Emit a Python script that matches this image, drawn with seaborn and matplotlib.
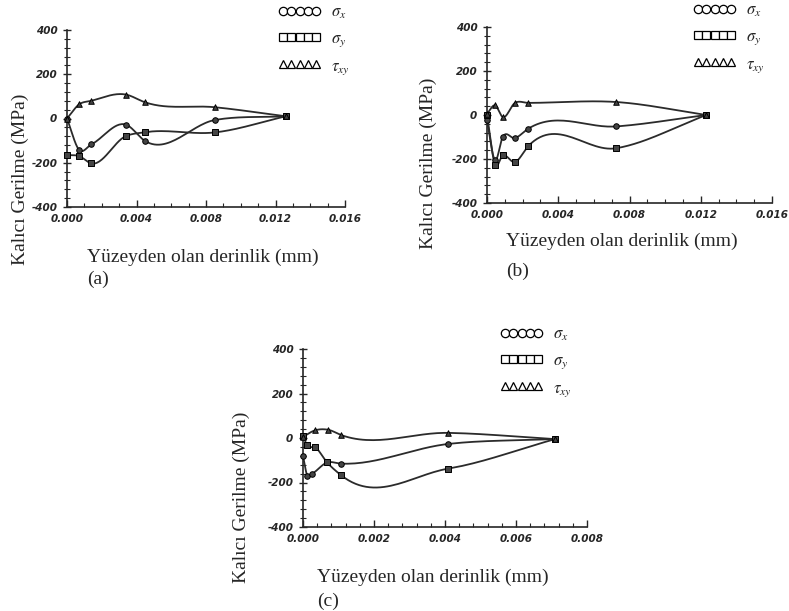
import numpy as np
import pandas as pd
import seaborn as sns
import matplotlib.pyplot as plt
from matplotlib.lines import Line2D
from matplotlib.ticker import MultipleLocator

# panel (a)
a_depth = [0.0, 0.0007, 0.0014, 0.0034, 0.0045, 0.0085, 0.0126]
a_sx = [0, -142, -117, -28, -102, -7, 10]
a_sy = [-165, -170, -203, -79, -62, -63, 10]
a_tau = [0, 64, 80, 108, 73, 51, 10]

# panel (b)
b_depth = [0.0, 0.00045, 0.00088, 0.00157, 0.00232, 0.00726, 0.01232]
b_sx = [-24, -206, -100, -105, -62, -52, 0]
b_sy = [0, -225, -184, -214, -141, -151, 0]
b_tau = [5, 44, -9, 55, 55, 59, 0]

# panel (c)
c_depth_sx = [0.0, 0.00012, 0.00026, 0.00068, 0.00106, 0.00408, 0.0071]
c_sx = [-80, -170, -160, -110, -115, -27, -5]
c_depth_sy = [0.0, 0.0001, 0.00035, 0.00068, 0.00108, 0.00408, 0.0071]
c_sy = [10, -30, -42, -110, -168, -138, -5]
c_depth_tau = [0.0, 0.00033, 0.00071, 0.00108, 0.00408, 0.0071]
c_tau = [5, 34, 37, 13, 23, -5]

series_labels = [r'$\sigma_x$', r'$\sigma_y$', r'$\tau_{xy}$']
series_markers = ['o', 's', '^']
xlabel = "Yüzeyden olan derinlik (mm)"
ylabel = "Kalıcı Gerilme (MPa)"

sns.set_style("ticks")
plt.rcParams['mathtext.fontset'] = 'stix'
plt.rcParams['font.family'] = ['Liberation Serif', 'DejaVu Serif']

LINE = '#2b2b2b'
W, H = 789, 611


def smooth(x, y, n=30):
    # hermite curve through the points, for the drawn line only
    x = np.asarray(x, float)
    y = np.asarray(y, float)
    m = np.gradient(y, x)
    xs, ys = [], []
    t = np.linspace(0, 1, n, endpoint=False)
    for i in range(len(x) - 1):
        h = x[i + 1] - x[i]
        h00 = 2 * t**3 - 3 * t**2 + 1
        h10 = t**3 - 2 * t**2 + t
        h01 = -2 * t**3 + 3 * t**2
        h11 = t**3 - t**2
        xs.append(x[i] + t * h)
        ys.append(h00 * y[i] + h10 * h * m[i] + h01 * y[i + 1] + h11 * h * m[i + 1])
    xs.append([x[-1]])
    ys.append([y[-1]])
    return np.concatenate(xs), np.concatenate(ys)


def make_panel(fig, box, curves, xmax, xstep, xminor, tag, xl_pos, tag_pos, yl_pos, leg_pos):
    l, r, t, b = box
    ax = fig.add_axes([l / W, 1 - b / H, (r - l) / W, (b - t) / H])
    for (depth, vals), mk in zip(curves, series_markers):
        xs, ys = smooth(depth, vals)
        sns.lineplot(x=xs, y=ys, ax=ax, color=LINE, lw=1.3, sort=False, estimator=None)
        sns.scatterplot(x=depth, y=vals, ax=ax, marker=mk, s=16, color='#444444',
                        edgecolor='black', linewidth=0.7, zorder=3, clip_on=False)
    ax.set_xlim(0, xmax)
    ax.set_ylim(-400, 400)
    sns.despine(ax=ax)
    ax.spines['left'].set_linewidth(1.2)
    ax.spines['bottom'].set_linewidth(1.2)
    xt = np.arange(0, xmax + 1e-9, xstep)
    ax.set_xticks(xt)
    ax.set_xticklabels([f"{v:.3f}" for v in xt])
    ax.set_yticks([-400, -200, 0, 200, 400])
    ax.set_yticklabels(['-400', '-200', '0', '200', '400'])
    ax.xaxis.set_minor_locator(MultipleLocator(xminor))
    ax.yaxis.set_minor_locator(MultipleLocator(40))
    ax.tick_params(axis='x', which='major', direction='in', length=5, width=1, pad=5)
    ax.tick_params(axis='x', which='minor', direction='in', length=3, width=0.8)
    ax.tick_params(axis='y', which='major', direction='inout', length=6, width=1, pad=4)
    ax.tick_params(axis='y', which='minor', direction='inout', length=4, width=0.8)
    for lab in ax.get_xticklabels() + ax.get_yticklabels():
        lab.set_family('DejaVu Sans')
        lab.set_fontweight('bold')
        lab.set_fontstyle('italic')
        lab.set_fontsize(7.5)
    ax.set_xlabel('')
    ax.set_ylabel('')

    fig.text(xl_pos[0] / W, 1 - xl_pos[1] / H, xlabel, fontsize=14, va='center', ha='left')
    fig.text(tag_pos[0] / W, 1 - tag_pos[1] / H, tag, fontsize=14, va='center', ha='left')
    fig.text(yl_pos[0] / W, 1 - yl_pos[1] / H, ylabel, fontsize=14, rotation=90,
             va='center', ha='center')

    handles = [Line2D([], [], linestyle='None', marker=mk, markersize=6,
                      markerfacecolor='white', markeredgecolor='black', markeredgewidth=0.9)
               for mk in series_markers]
    fig.legend(handles, series_labels, loc='upper left',
               bbox_to_anchor=(leg_pos[0] / W, 1 - leg_pos[1] / H),
               numpoints=5, frameon=False, handlelength=2.6, handletextpad=0.6,
               labelspacing=0.55, fontsize=12, borderaxespad=0, borderpad=0)
    return ax


fig = plt.figure(figsize=(7.89, 6.11), dpi=100)

make_panel(fig, (67, 345, 30, 207),
           [(a_depth, a_sx), (a_depth, a_sy), (a_depth, a_tau)],
           0.016, 0.004, 0.001, "(a)",
           (87, 257), (87, 279), (20, 179), (278, 5))

make_panel(fig, (487, 772, 27, 203),
           [(b_depth, b_sx), (b_depth, b_sy), (b_depth, b_tau)],
           0.016, 0.004, 0.001, "(b)",
           (506, 241), (506, 271), (428, 163), (693, 3))

make_panel(fig, (303, 587, 349, 527),
           [(c_depth_sx, c_sx), (c_depth_sy, c_sy), (c_depth_tau, c_tau)],
           0.008, 0.002, 0.0004, "(c)",
           (317, 577), (317, 601), (241, 497), (500, 327))

fig.savefig("out.png", dpi=100)
